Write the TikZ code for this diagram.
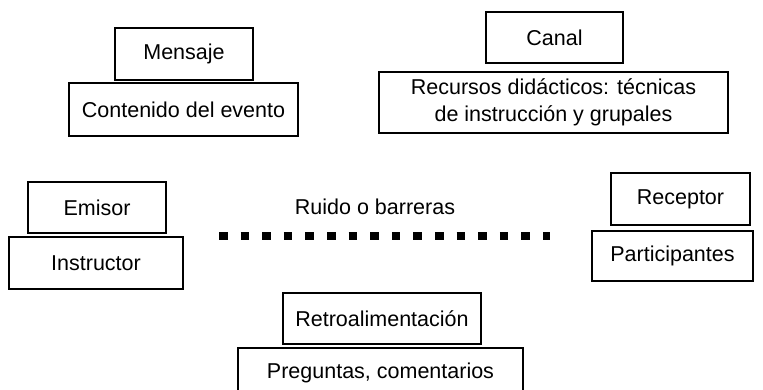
\documentclass[tikz,border=0pt]{standalone}
\usepackage{fontspec}
\setmainfont{Liberation Sans}
\usepackage{tikz}
\usetikzlibrary{positioning}

\begin{document}
\begin{tikzpicture}[x=1pt, y=-1pt,
    caja/.style={draw, line width=2pt, inner sep=0pt, align=center,
      font=\fontsize{21.5}{26.5}\selectfont},
    ruido/.style={line width=7.5pt, dash pattern=on 8.5pt off 13.1pt}]
  \clip (0,0) rectangle (763,389);
  % Mensaje
  \node[caja, minimum width=138, minimum height=52] (mensaje) at (184,54) {Mensaje};
  \node[caja, minimum width=229, minimum height=53] (contenido) at (183.5,109.5) {Contenido del evento};
  % Canal
  \node[caja, minimum width=137, minimum height=51] (canal) at (554.5,37.5) {Canal};
  \node[caja, minimum width=349, minimum height=61] (recursos) at (553.5,102.5)
    {Recursos did\'acticos: t\'ecnicas\\de instrucci\'on y grupales};
  % Emisor
  \node[caja, minimum width=138, minimum height=51] (emisor) at (97,207.5) {Emisor};
  \node[caja, minimum width=174, minimum height=52] (instructor) at (96,263) {Instructor};
  % Receptor
  \node[caja, minimum width=139, minimum height=52] (receptor) at (680.5,199) {Receptor};
  \node[caja, minimum width=161, minimum height=50] (participantes) at (672.5,256) {Participantes};
  % Retroalimentacion
  \node[caja, minimum width=198, minimum height=51] (retro) at (382,318.5) {Retroalimentaci\'on};
  \node[caja, minimum width=285, minimum height=50] (preguntas) at (380.5,373) {Preguntas, comentarios};
  % Ruido
  \node[font=\fontsize{21.5}{26.5}\selectfont] (ruidotxt) at (375,207) {Ruido o barreras};
  \coordinate (ri) at (219,236);
  \coordinate (rd) at (550,236);
  \draw[ruido] (ri) -- (rd);
\end{tikzpicture}
\end{document}
